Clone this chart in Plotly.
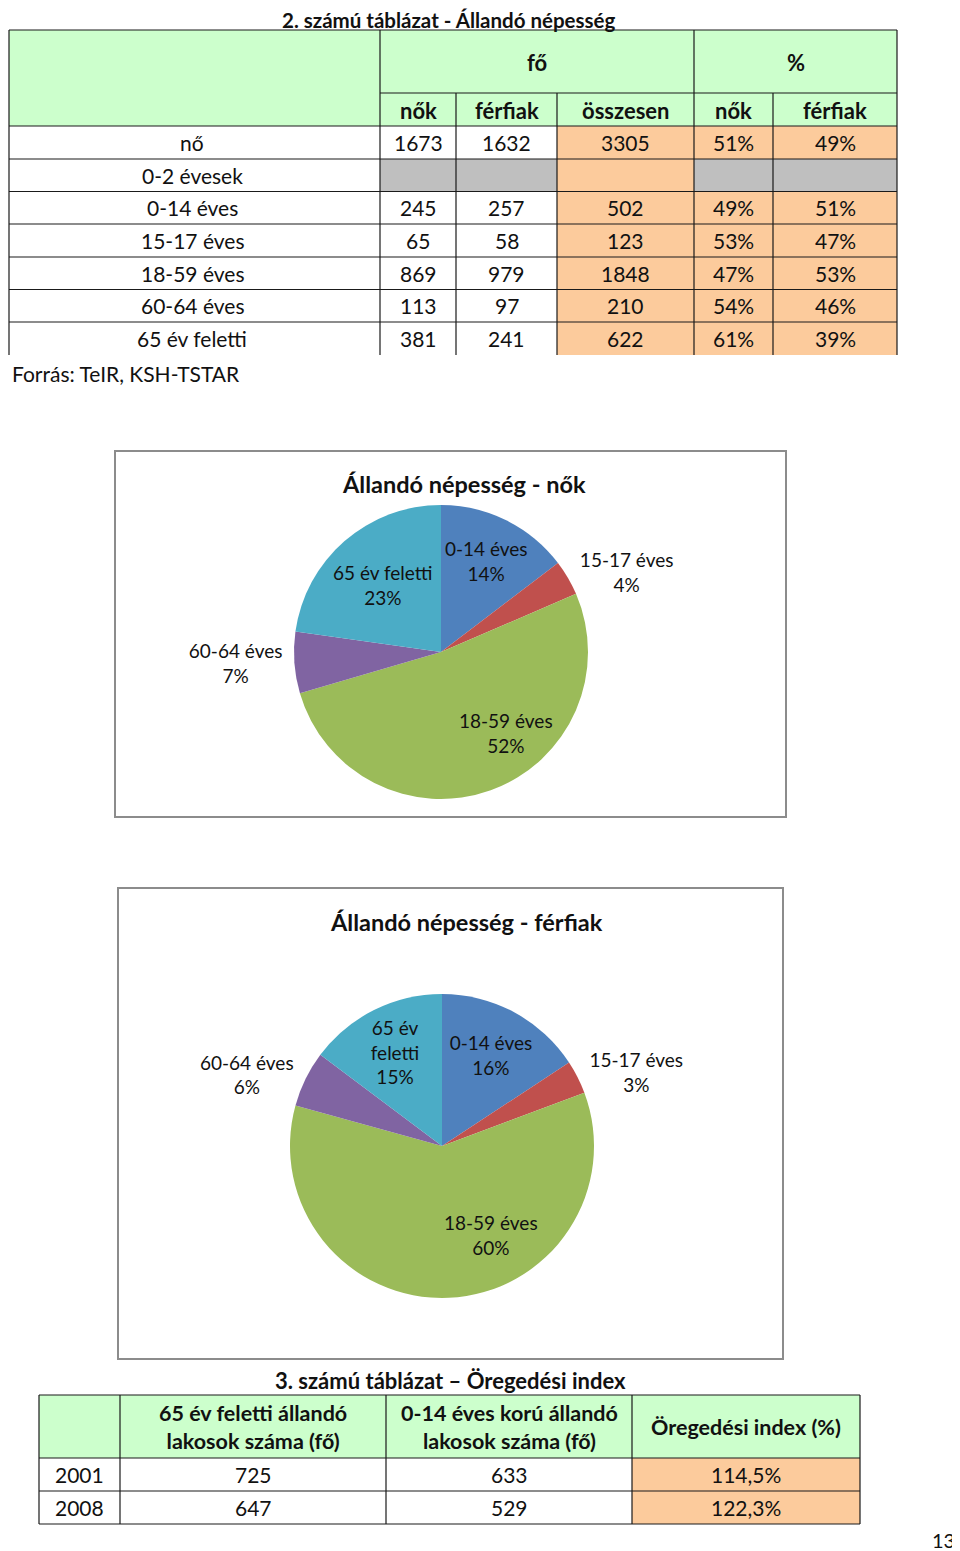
import plotly.graph_objects as go

# %% data
row_labels = ['nő', '0-2 évesek', '0-14 éves', '15-17 éves', '18-59 éves',
              '60-64 éves', '65 év feletti']
nok_fo = [1673, None, 245, 65, 869, 113, 381]
ferfi_fo = [1632, None, 257, 58, 979, 97, 241]
osszesen = [3305, None, 502, 123, 1848, 210, 622]
nok_pct = ['51%', '', '49%', '53%', '47%', '54%', '61%']
ferfi_pct = ['49%', '', '51%', '47%', '53%', '46%', '39%']

age_groups = ['0-14 éves', '15-17 éves', '18-59 éves', '60-64 éves', '65 év feletti']
nok_pie = nok_fo[2:]
ferfi_pie = ferfi_fo[2:]
nok_pie_pct = ['14%', '4%', '52%', '7%', '23%']
ferfi_pie_pct = ['16%', '3%', '60%', '6%', '15%']
ferfi_pie_names = ['0-14 éves', '15-17 éves', '18-59 éves', '60-64 éves', '65 év<br>feletti']

index_years = ['2001', '2008']
index_65 = [725, 647]
index_014 = [633, 529]
index_pct = ['114,5%', '122,3%']

# %% layout constants (page pixels; the page body has an 8px margin)
W, H = 960, 1551
OFF = 8
FONT = 'Lato'
GREEN = '#CCFFCC'
ORANGE = '#FCCB9C'
GRAY = '#BFBFBF'
LINE = '#1a1a1a'
pie_colors = ['#4F81BD', '#C0504D', '#9BBB59', '#8064A2', '#4BACC6']

t1_cols = [9, 380, 456, 557, 694, 773, 897]
t1_rows = [126, 159, 191.5, 224, 257, 289.5, 322, 355]
t3_cols = [39, 120, 386, 632, 860]
t3_rows = [1395, 1458, 1491, 1524]

shapes = []
annots = []


def rect(x0, y0, x1, y1, fill):
    shapes.append(dict(type='rect', xref='x', yref='y', x0=x0, y0=y0, x1=x1, y1=y1,
                       fillcolor=fill, line=dict(width=0), layer='below'))


def line(x0, y0, x1, y1, color=LINE, width=1.2):
    shapes.append(dict(type='line', xref='x', yref='y', x0=x0, y0=y0, x1=x1, y1=y1,
                       line=dict(color=color, width=width)))


def text(x, y, s, size=21, bold=False, anchor='center'):
    if bold:
        s = '<b>' + s + '</b>'
    annots.append(dict(x=x, y=y, xref='x', yref='y', text=s, showarrow=False,
                       xanchor=anchor, yanchor='middle',
                       font=dict(family=FONT, size=size, color='#111')))


# %% table 2
text(449, 20, '2. számú táblázat - Állandó népesség', 20.5, True)
rect(t1_cols[0], 30, t1_cols[-1], t1_rows[0], GREEN)
for i in range(len(row_labels)):
    y0, y1 = t1_rows[i], t1_rows[i + 1]
    empty = nok_fo[i] is None
    rect(t1_cols[1], y0, t1_cols[2], y1, GRAY if empty else 'white')
    rect(t1_cols[2], y0, t1_cols[3], y1, GRAY if empty else 'white')
    rect(t1_cols[3], y0, t1_cols[4], y1, ORANGE)
    rect(t1_cols[4], y0, t1_cols[5], y1, GRAY if empty else ORANGE)
    rect(t1_cols[5], y0, t1_cols[6], y1, GRAY if empty else ORANGE)
    yc = (y0 + y1) / 2
    text(192, yc, row_labels[i])
    vals = [nok_fo[i], ferfi_fo[i], osszesen[i], nok_pct[i], ferfi_pct[i]]
    for j, v in enumerate(vals):
        if v is None or v == '':
            continue
        text((t1_cols[j + 1] + t1_cols[j + 2]) / 2, yc, str(v))

text((t1_cols[1] + t1_cols[4]) / 2, 62, 'fő', 22, True)
text((t1_cols[4] + t1_cols[6]) / 2, 62, '%', 22, True)
for j, h in enumerate(['nők', 'férfiak', 'összesen', 'nők', 'férfiak']):
    text((t1_cols[j + 1] + t1_cols[j + 2]) / 2, 110, h, 22, True)

line(t1_cols[0], 30, t1_cols[-1], 30)
line(t1_cols[1], 93, t1_cols[-1], 93)
for y in t1_rows[:-1]:
    line(t1_cols[0], y, t1_cols[-1], y)
for j, x in enumerate(t1_cols):
    top = 30 if j in (0, 1, 4, 6) else 93
    line(x, top, x, t1_rows[-1])

text(10, 373, 'Forrás: TeIR, KSH-TSTAR', 21, anchor='left')

# %% chart frames + titles
shapes.append(dict(type='rect', xref='x', yref='y', x0=115, y0=451, x1=786, y1=817,
                   line=dict(color='#8c8c8c', width=2)))
shapes.append(dict(type='rect', xref='x', yref='y', x0=118, y0=888, x1=783, y1=1359,
                   line=dict(color='#8c8c8c', width=2)))
text(464, 484, 'Állandó népesség - nők', 23.5, True)
text(466, 922, 'Állandó népesség - férfiak', 23.5, True)

# 18-59 labels sit off-centre in the slice
text(506, 733, age_groups[2] + '<br>' + nok_pie_pct[2], 19)
text(491, 1235, age_groups[2] + '<br>' + ferfi_pie_pct[2], 19)

# %% table 3
text(450, 1380, '3. számú táblázat – Öregedési index', 22, True)
rect(t3_cols[0], t3_rows[0], t3_cols[-1], t3_rows[1], GREEN)
for i in range(len(index_years)):
    rect(t3_cols[3], t3_rows[i + 1], t3_cols[4], t3_rows[i + 2], ORANGE)
    yc = (t3_rows[i + 1] + t3_rows[i + 2]) / 2
    for j, v in enumerate([index_years[i], index_65[i], index_014[i], index_pct[i]]):
        text((t3_cols[j] + t3_cols[j + 1]) / 2, yc, str(v))
hdr3 = ['65 év feletti állandó<br>lakosok száma (fő)',
        '0-14 éves korú állandó<br>lakosok száma (fő)',
        'Öregedési index (%)']
for j, h in enumerate(hdr3):
    text((t3_cols[j + 1] + t3_cols[j + 2]) / 2, (t3_rows[0] + t3_rows[1]) / 2,
         '<b>' + h.replace('<br>', '</b><br><b>') + '</b>', 21.5)
for y in t3_rows:
    line(t3_cols[0], y, t3_cols[-1], y)
for x in t3_cols:
    line(x, t3_rows[0], x, t3_rows[-1])

text(943, 1540, '13', 20)

# %% pies
fig = go.Figure()


def pie_domain(cx, cy, r):
    return dict(x=[(cx - r - OFF) / (W - OFF), (cx + r - OFF) / (W - OFF)],
                y=[1 - (cy + r - OFF) / (H - OFF), 1 - (cy - r - OFF) / (H - OFF)])


positions = ['inside', 'outside', 'none', 'outside', 'inside']

fig.add_trace(go.Pie(
    labels=age_groups, values=nok_pie, text=nok_pie_pct,
    customdata=age_groups,
    texttemplate='%{customdata}<br>%{text}',
    textposition=positions,
    insidetextorientation='horizontal',
    sort=False, direction='clockwise', rotation=0,
    marker=dict(colors=pie_colors, line=dict(width=0)),
    textfont=dict(family=FONT, size=19, color='#111'),
    domain=pie_domain(441, 652, 147),
    showlegend=False, hoverinfo='label+value'))

fig.add_trace(go.Pie(
    labels=age_groups, values=ferfi_pie, text=ferfi_pie_pct,
    customdata=ferfi_pie_names,
    texttemplate='%{customdata}<br>%{text}',
    textposition=positions,
    insidetextorientation='horizontal',
    sort=False, direction='clockwise', rotation=0,
    marker=dict(colors=pie_colors, line=dict(width=0)),
    textfont=dict(family=FONT, size=19, color='#111'),
    domain=pie_domain(442, 1146, 152),
    showlegend=False, hoverinfo='label+value'))

fig.update_layout(
    width=W - OFF, height=H - OFF,
    margin=dict(l=0, r=0, t=0, b=0),
    paper_bgcolor='white', plot_bgcolor='white',
    xaxis=dict(range=[OFF, W], visible=False, fixedrange=True, domain=[0, 1]),
    yaxis=dict(range=[H, OFF], visible=False, fixedrange=True, domain=[0, 1]),
    uniformtext=dict(minsize=19, mode='show'),
    shapes=shapes, annotations=annots,
)

fig.write_html('out.html')
